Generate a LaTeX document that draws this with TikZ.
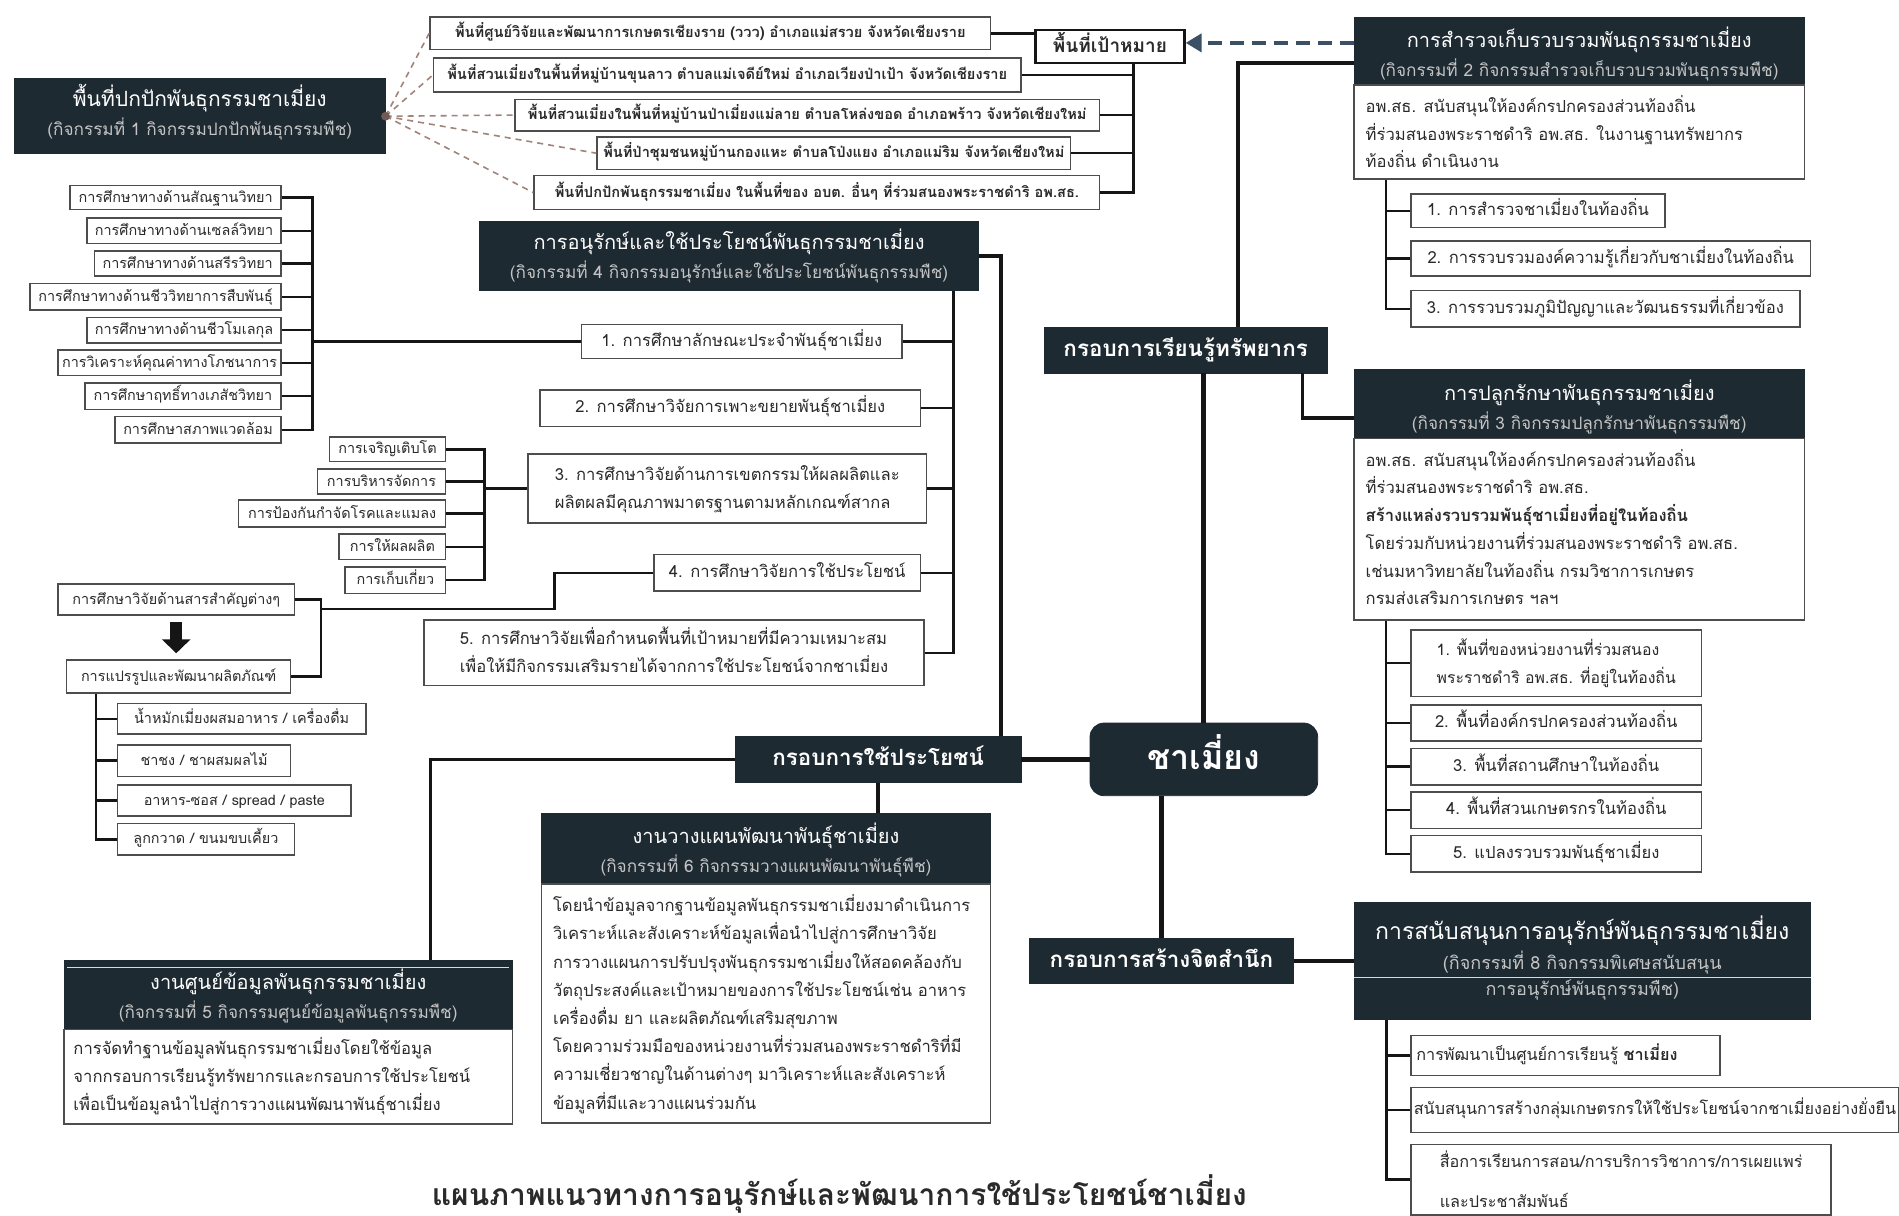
\documentclass[tikz,border=0pt]{standalone}
\usepackage{fontspec}
\setmainfont[Script=Thai]{Loma}
\usetikzlibrary{calc,arrows.meta}
\definecolor{dk}{HTML}{1E2A32}
\definecolor{bd}{HTML}{4D4D4D}
\definecolor{hsub}{HTML}{C4C4C4}
\definecolor{dashc}{HTML}{A0847A}
\definecolor{arrc}{HTML}{3B5064}
\definecolor{lnc}{HTML}{151515}
\definecolor{txc}{HTML}{2A2A2A}
\newcommand\hd[2]{{\fontsize{10}{14.5}\selectfont #1}\\{\color{hsub}#2}}
\begin{document}
\begin{tikzpicture}[x=0.6056pt,y=-0.6056pt,
 bb/.style n args={4}{at={({(#1+#3)/2},{(#2+#4)/2})},minimum width={(#3-#1)*0.6056pt},minimum height={(#4-#2)*0.6056pt}},
 one/.style={text height=6.6pt,text depth=2pt},
 two/.style={text height=22pt,text depth=2pt},
 box/.style={draw=bd,line width=0.8pt,fill=white,inner sep=0pt,text=txc,align=center,font=\fontsize{7.2}{10}\selectfont,one},
 itm/.style={box,font=\fontsize{8.3}{14}\selectfont},
 abox/.style={box,font=\bfseries\fontsize{7.3}{9}\selectfont},
 hdr/.style={draw=dk,fill=dk,inner sep=0pt,text=white,align=center,font=\fontsize{8.6}{14.5}\selectfont,text height=25pt,text depth=2pt},
 frm/.style={draw=dk,fill=dk,inner sep=0pt,text=white,font=\bfseries\fontsize{11.2}{13}\selectfont,text height=8.5pt,text depth=2pt},
 body/.style={inner sep=0pt,text=txc,align=left,anchor=north west,font=\fontsize{8.3}{13.9}\selectfont},
 conn/.style={draw=lnc,line width=1.2pt},
 mid/.style={draw=lnc,line width=1.8pt},
 trunk/.style={draw=lnc,line width=2.6pt},
 dline/.style={draw=dashc,line width=0.8pt,dash pattern=on 3pt off 2.5pt},
]
\path[use as bounding box,fill=white] (0,0) rectangle (1568,1004);

% ---------- activity 1 and target areas
\node[hdr,bb={12}{65}{318}{127},text height=21.5pt] (t1) {{\fontsize{10.5}{14.5}\selectfont พื้นที่ปกปักพันธุกรรมชาเมี่ยง}\\{\color{hsub}(กิจกรรมที่ 1 กิจกรรมปกปักพันธุกรรมพืช)}};
\node[abox,bb={355}{14}{818}{41}] (a1) {พื้นที่ศูนย์วิจัยและพัฒนาการเกษตรเชียงราย (ววว) อำเภอแม่สรวย จังหวัดเชียงราย};
\node[abox,bb={358}{48}{843}{76}] (a2) {พื้นที่สวนเมี่ยงในพื้นที่หมู่บ้านขุนลาว ตำบลแม่เจดีย์ใหม่ อำเภอเวียงป่าเป้า จังหวัดเชียงราย};
\node[abox,bb={425}{82}{908}{108}] (a3) {พื้นที่สวนเมี่ยงในพื้นที่หมู่บ้านป่าเมี่ยงแม่ลาย ตำบลโหล่งขอด อำเภอพร้าว จังหวัดเชียงใหม่};
\node[abox,bb={493}{113}{884}{140}] (a4) {พื้นที่ป่าชุมชนหมู่บ้านกองแหะ ตำบลโป่งแยง อำเภอแม่ริม จังหวัดเชียงใหม่};
\node[abox,bb={441}{145}{908}{173}] (a5) {พื้นที่ปกปักพันธุกรรมชาเมี่ยง ในพื้นที่ของ อบต. อื่นๆ ที่ร่วมสนองพระราชดำริ อพ.สธ.};
\foreach \n in {a1,a2,a3,a4,a5} \draw[dline] (t1.east) -- (\n.west);
\fill[dashc!70!black] (t1.east) circle[radius=2.2pt];
\node[box,bb={855}{25}{978}{52},draw=lnc,line width=1.2pt,font=\bfseries\fontsize{9.5}{11}\selectfont,text height=7.5pt,text depth=2pt] (pta) {พื้นที่เป้าหมาย};
\coordinate (pb) at ($(pta.south east)+(-43,0)$);
\draw[conn] (a1.east) -- (a1.east -| pta.west);
\draw[conn] (pb) |- (a5.east);
\foreach \n in {a2,a3,a4} \draw[conn] (\n.east) -- (\n.east -| pb);

% ---------- activity 2
\node[hdr,bb={1118}{14}{1490}{70},text height=27.4pt] (t2h) {\hd{การสำรวจเก็บรวบรวมพันธุกรรมชาเมี่ยง}{(กิจกรรมที่ 2 กิจกรรมสำรวจเก็บรวบรวมพันธุกรรมพืช)}};
\node[box,bb={1118}{70}{1490}{148}] (t2b) {};
\node[body] (t2t) at ($(t2b.north west)+(10,9)$) {อพ.สธ. สนับสนุนให้องค์กรปกครองส่วนท้องถิ่น\\ที่ร่วมสนองพระราชดำริ อพ.สธ. ในงานฐานทรัพยากร\\ท้องถิ่น ดำเนินงาน};
\node[itm,bb={1165}{160}{1375}{188}] (q1) {1. การสำรวจชาเมี่ยงในท้องถิ่น};
\node[itm,bb={1165}{199}{1495}{228}] (q2) {2. การรวบรวมองค์ความรู้เกี่ยวกับชาเมี่ยงในท้องถิ่น};
\node[itm,bb={1165}{240}{1486}{270}] (q3) {3. การรวบรวมภูมิปัญญาและวัฒนธรรมที่เกี่ยวข้อง};
\coordinate (v2) at ($(t2b.south west)+(27,0)$);
\draw[conn] (v2) |- (q3.west);
\foreach \n in {q1,q2} \draw[conn] (\n.west) -- (\n.west -| v2);
\draw[draw=arrc,line width=2pt,dash pattern=on 7pt off 4pt,-{Triangle[length=8pt,width=9pt]}] ([yshift=4pt]t2h.west) -- ([yshift=4pt]t2h.west -| pta.east);

% ---------- frames and centre
\node[frm,bb={862}{270}{1096}{308}] (f1) {กรอบการเรียนรู้ทรัพยากร};
\node[frm,bb={607}{608}{843}{646}] (f2) {กรอบการใช้ประโยชน์};
\node[frm,bb={850}{775}{1068}{812}] (f3) {กรอบการสร้างจิตสำนึก};
\node[frm,bb={900}{597}{1088}{657},rounded corners=7pt,font=\bfseries\fontsize{17}{20}\selectfont,text height=12pt,text depth=2pt] (cm) {ชาเมี่ยง};

% ---------- activity 3
\node[hdr,bb={1118}{305}{1490}{362},text height=27.5pt] (t3h) {\hd{การปลูกรักษาพันธุกรรมชาเมี่ยง}{(กิจกรรมที่ 3 กิจกรรมปลูกรักษาพันธุกรรมพืช)}};
\node[box,bb={1118}{362}{1490}{512}] (t3b) {};
\node[body] (t3t) at ($(t3b.north west)+(10,9)$) {อพ.สธ. สนับสนุนให้องค์กรปกครองส่วนท้องถิ่น\\ที่ร่วมสนองพระราชดำริ อพ.สธ.\\\textbf{สร้างแหล่งรวบรวมพันธุ์ชาเมี่ยงที่อยู่ในท้องถิ่น}\\โดยร่วมกับหน่วยงานที่ร่วมสนองพระราชดำริ อพ.สธ.\\เช่นมหาวิทยาลัยในท้องถิ่น กรมวิชาการเกษตร\\กรมส่งเสริมการเกษตร ฯลฯ};
\node[itm,bb={1165}{520}{1405}{575},align=left,two,font=\fontsize{7.9}{14}\selectfont] (r1) {1. พื้นที่ของหน่วยงานที่ร่วมสนอง\\พระราชดำริ อพ.สธ. ที่อยู่ในท้องถิ่น};
\node[itm,bb={1165}{582}{1405}{612}] (r2) {2. พื้นที่องค์กรปกครองส่วนท้องถิ่น};
\node[itm,bb={1165}{618}{1405}{648}] (r3) {3. พื้นที่สถานศึกษาในท้องถิ่น};
\node[itm,bb={1165}{654}{1405}{684}] (r4) {4. พื้นที่สวนเกษตรกรในท้องถิ่น};
\node[itm,bb={1165}{690}{1405}{720}] (r5) {5. แปลงรวบรวมพันธุ์ชาเมี่ยง};
\coordinate (v3) at ($(t3b.south west)+(27,0)$);
\draw[conn] (v3) |- (r5.west);
\foreach \n in {r1,r2,r3,r4} \draw[conn] (\n.west) -- (\n.west -| v3);

% ---------- activity 4
\node[hdr,bb={396}{183}{808}{240},text height=24pt] (t4h) {\hd{การอนุรักษ์และใช้ประโยชน์พันธุกรรมชาเมี่ยง}{(กิจกรรมที่ 4 กิจกรรมอนุรักษ์และใช้ประโยชน์พันธุกรรมพืช)}};
\node[itm,bb={480}{268}{745}{296}] (p1) {1. การศึกษาลักษณะประจำพันธุ์ชาเมี่ยง};
\node[itm,bb={446}{322}{760}{352}] (p2) {2. การศึกษาวิจัยการเพาะขยายพันธุ์ชาเมี่ยง};
\node[itm,bb={436}{375}{765}{432},align=left,two] (p3) {3. การศึกษาวิจัยด้านการเขตกรรมให้ผลผลิตและ\\ผลิตผลมีคุณภาพมาตรฐานตามหลักเกณฑ์สากล};
\node[itm,bb={540}{458}{760}{488}] (p4) {4. การศึกษาวิจัยการใช้ประโยชน์};
\node[itm,bb={350}{512}{763}{566},align=left,two] (p5) {5. การศึกษาวิจัยเพื่อกำหนดพื้นที่เป้าหมายที่มีความเหมาะสม\\เพื่อให้มีกิจกรรมเสริมรายได้จากการใช้ประโยชน์จากชาเมี่ยง};
\coordinate (v4) at ($(t4h.south east)+(-21,0)$);
\draw[conn] (v4) |- (p5.east);
\foreach \n in {p1,p2,p3,p4} \draw[conn] (\n.east) -- (\n.east -| v4);

% ---------- left lists
\node[box,bb={58}{153}{232}{173}] (l1) {การศึกษาทางด้านสัณฐานวิทยา};
\node[box,bb={72}{180}{232}{201}] (l2) {การศึกษาทางด้านเซลล์วิทยา};
\node[box,bb={78}{207}{232}{228}] (l3) {การศึกษาทางด้านสรีรวิทยา};
\node[box,bb={25}{234}{232}{256}] (l4) {การศึกษาทางด้านชีววิทยาการสืบพันธุ์};
\node[box,bb={72}{262}{232}{283}] (l5) {การศึกษาทางด้านชีวโมเลกุล};
\node[box,bb={48}{289}{232}{310}] (l6) {การวิเคราะห์คุณค่าทางโภชนาการ};
\node[box,bb={70}{316}{232}{338}] (l7) {การศึกษาฤทธิ์ทางเภสัชวิทยา};
\node[box,bb={95}{344}{232}{366}] (l8) {การศึกษาสภาพแวดล้อม};
\coordinate (vl) at (258,282);
\draw[conn] (l1.east) -| (vl) |- (l8.east);
\foreach \n in {l2,l3,l4,l5,l6,l7} \draw[conn] (\n.east) -- (\n.east -| vl);
\draw[conn] (vl) -- (vl -| p1.west);

\node[box,bb={272}{361}{368}{381}] (s1) {การเจริญเติบโต};
\node[box,bb={262}{387}{368}{408}] (s2) {การบริหารจัดการ};
\node[box,bb={197}{413}{368}{435}] (s3) {การป้องกันกำจัดโรคและแมลง};
\node[box,bb={280}{441}{368}{462}] (s4) {การให้ผลผลิต};
\node[box,bb={285}{468}{368}{490}] (s5) {การเก็บเกี่ยว};
\coordinate (vs) at (400,403.5);
\draw[conn] (s1.east) -| (vs) |- (s5.east);
\foreach \n in {s2,s3,s4} \draw[conn] (\n.east) -- (\n.east -| vs);
\draw[conn] (vs) -- (vs -| p3.west);

\node[box,bb={48}{482}{243}{508}] (b1) {การศึกษาวิจัยด้านสารสำคัญต่างๆ};
\node[box,bb={55}{545}{240}{572}] (b2) {การแปรรูปและพัฒนาผลิตภัณฑ์};
\draw[draw=lnc,line width=6pt,-{Triangle[length=7pt,width=14pt]},shorten <=3pt,shorten >=3pt] (b1.south) -- (b1.south |- b2.north);
\coordinate (vb) at (265,503);
\draw[conn] (b1.east) -| (vb) |- (b2.east);
\draw[conn] (vb) -- ++(193,0) |- (p4.west);
\node[box,bb={97}{581}{302}{606}] (c1) {น้ำหมักเมี่ยงผสมอาหาร / เครื่องดื่ม};
\node[box,bb={97}{615}{240}{641}] (c2) {ชาชง / ชาผสมผลไม้};
\node[box,bb={97}{648}{290}{674}] (c3) {อาหาร-ซอส / spread / paste};
\node[box,bb={97}{680}{243}{706}] (c4) {ลูกกวาด / ขนมขบเคี้ยว};
\coordinate (vc) at ($(b2.south west)+(25,0)$);
\draw[conn] (vc) |- (c4.west);
\foreach \n in {c1,c2,c3} \draw[conn] (\n.west) -- (\n.west -| vc);

% ---------- activity 6
\node[hdr,bb={447}{672}{818}{730},text height=25.6pt] (t6h) {\hd{งานวางแผนพัฒนาพันธุ์ชาเมี่ยง}{(กิจกรรมที่ 6 กิจกรรมวางแผนพัฒนาพันธุ์พืช)}};
\node[box,bb={447}{730}{818}{927}] (t6b) {};
\node[body,font=\fontsize{8.3}{14.1}\selectfont] (t6t) at ($(t6b.north west)+(10,9)$) {โดยนำข้อมูลจากฐานข้อมูลพันธุกรรมชาเมี่ยงมาดำเนินการ\\วิเคราะห์และสังเคราะห์ข้อมูลเพื่อนำไปสู่การศึกษาวิจัย\\การวางแผนการปรับปรุงพันธุกรรมชาเมี่ยงให้สอดคล้องกับ\\วัตถุประสงค์และเป้าหมายของการใช้ประโยชน์เช่น อาหาร\\เครื่องดื่ม ยา และผลิตภัณฑ์เสริมสุขภาพ\\โดยความร่วมมือของหน่วยงานที่ร่วมสนองพระราชดำริที่มี\\ความเชี่ยวชาญในด้านต่างๆ มาวิเคราะห์และสังเคราะห์\\ข้อมูลที่มีและวางแผนร่วมกัน};

% ---------- activity 5
\node[hdr,bb={53}{793}{423}{850},text height=25.7pt] (t5h) {\hd{งานศูนย์ข้อมูลพันธุกรรมชาเมี่ยง}{(กิจกรรมที่ 5 กิจกรรมศูนย์ข้อมูลพันธุกรรมพืช)}};
\draw[white!85!black,line width=0.7pt] ($(t5h.north west)+(3,6)$) -- ($(t5h.north east)+(-3,6)$);
\node[box,bb={53}{850}{423}{928}] (t5b) {};
\node[body] (t5t) at ($(t5b.north west)+(8,7)$) {การจัดทำฐานข้อมูลพันธุกรรมชาเมี่ยงโดยใช้ข้อมูล\\จากกรอบการเรียนรู้ทรัพยากรและกรอบการใช้ประโยชน์\\เพื่อเป็นข้อมูลนำไปสู่การวางแผนพัฒนาพันธุ์ชาเมี่ยง};

% ---------- activity 8
\node[hdr,bb={1118}{745}{1495}{842},font=\fontsize{9}{13.3}\selectfont,text height=36.9pt,text depth=2pt] (t8h) {{\fontsize{11.5}{15}\selectfont การสนับสนุนการอนุรักษ์พันธุกรรมชาเมี่ยง}\\[1.8pt]{\color{hsub}(กิจกรรมที่ 8 กิจกรรมพิเศษสนับสนุน}\\{\color{hsub}การอนุรักษ์พันธุกรรมพืช)}};
\draw[white!85!black,line width=0.7pt] (t8h.west |- 0,807) -- (t8h.east |- 0,807);
\node[itm,bb={1165}{855}{1420}{888},font=\fontsize{8.1}{14}\selectfont,text width=149pt,align=left] (e1) {การพัฒนาเป็นศูนย์การเรียนรู้ \textbf{ชาเมี่ยง}};
\node[itm,bb={1165}{898}{1568}{935},font=\fontsize{8.1}{14}\selectfont] (e2) {สนับสนุนการสร้างกลุ่มเกษตรกรให้ใช้ประโยชน์จากชาเมี่ยงอย่างยั่งยืน};
\node[itm,bb={1165}{945}{1512}{1003},align=left,font=\fontsize{8.1}{20}\selectfont,text height=29.8pt,text depth=2pt] (e3) {สื่อการเรียนการสอน/การบริการวิชาการ/การเผยแพร่\\และประชาสัมพันธ์};
\coordinate (v8) at ($(t8h.south west)+(27,0)$);
\draw[conn] (v8) |- (e3.west);
\foreach \n in {e1,e2} \draw[conn] (\n.west) -- (\n.west -| v8);

% ---------- trunk connectors
\draw[trunk] (f1.south -| cm.north) -- (cm.north);
\draw[trunk] (cm.south -| f3.north) -- (f3.north);
\draw[trunk] (f2.east) -- (f2.east -| cm.west);
\draw[mid] (f3.east) -- (f3.east -| t8h.west);
\draw[mid] ($(f1.north east)+(-74,0)$) |- ([yshift=-6pt]t2h.west);
\draw[mid] ($(f1.south east)+(-21,0)$) |- ([yshift=-7pt]t3h.west);
\draw[mid] (t4h.east) -| ($(f2.north east)+(-17,0)$);
\draw[mid] (f2.south) -- (f2.south |- t6h.north);
\draw[mid] (f2.west) -| ($(t5h.north east)+(-68,0)$);

% ---------- title
\node[text=txc,font=\bfseries\fontsize{15}{18}\selectfont,anchor=base,inner sep=0pt] (ttl) at (693,995) {แผนภาพแนวทางการอนุรักษ์และพัฒนาการใช้ประโยชน์ชาเมี่ยง};
\end{tikzpicture}
\end{document}
